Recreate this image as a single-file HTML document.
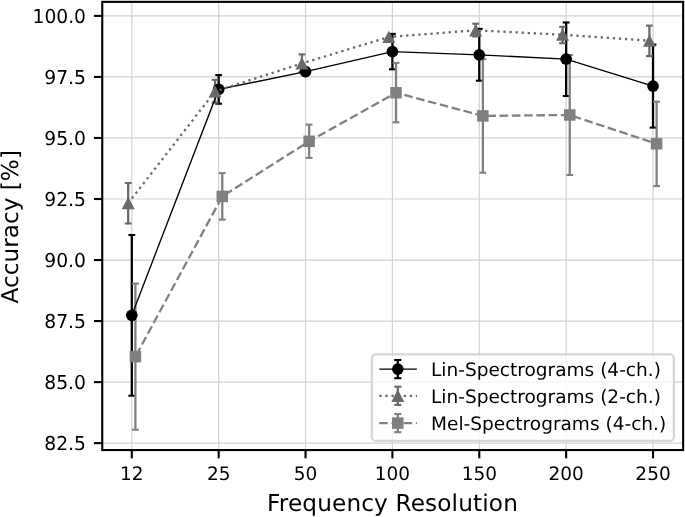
<!DOCTYPE html>
<html lang="en"><head><meta charset="utf-8"><title>Accuracy vs Frequency Resolution</title>
<style>html,body{margin:0;padding:0;background:#fff;width:685px;height:517px;overflow:hidden}svg{will-change:transform}text{text-rendering:geometricPrecision}</style></head>
<body>
<svg width="685" height="517" viewBox="0 0 685 517" style="display:block;position:absolute;left:0;top:0" font-family="'DejaVu Sans', 'Liberation Sans', sans-serif" fill="#000">
<rect x="0" y="0" width="685" height="517" fill="#fff"/>
<g stroke="#d2d2d2" stroke-width="1.2" fill="none">
<line x1="131.80" y1="1.85" x2="131.80" y2="450.05"/>
<line x1="218.67" y1="1.85" x2="218.67" y2="450.05"/>
<line x1="305.54" y1="1.85" x2="305.54" y2="450.05"/>
<line x1="392.41" y1="1.85" x2="392.41" y2="450.05"/>
<line x1="479.28" y1="1.85" x2="479.28" y2="450.05"/>
<line x1="566.15" y1="1.85" x2="566.15" y2="450.05"/>
<line x1="653.02" y1="1.85" x2="653.02" y2="450.05"/>
<line x1="102.25" y1="15.90" x2="683.15" y2="15.90"/>
<line x1="102.25" y1="76.94" x2="683.15" y2="76.94"/>
<line x1="102.25" y1="137.97" x2="683.15" y2="137.97"/>
<line x1="102.25" y1="199.01" x2="683.15" y2="199.01"/>
<line x1="102.25" y1="260.04" x2="683.15" y2="260.04"/>
<line x1="102.25" y1="321.07" x2="683.15" y2="321.07"/>
<line x1="102.25" y1="382.11" x2="683.15" y2="382.11"/>
<line x1="102.25" y1="443.14" x2="683.15" y2="443.14"/>
</g>
<g stroke="#000000" fill="none">
<line x1="131.80" y1="235.00" x2="131.80" y2="395.70" stroke-width="2.3"/>
<line x1="128.40" y1="235.00" x2="135.20" y2="235.00" stroke-width="2.1"/>
<line x1="128.40" y1="395.70" x2="135.20" y2="395.70" stroke-width="2.1"/>
<line x1="218.67" y1="75.10" x2="218.67" y2="103.70" stroke-width="2.3"/>
<line x1="215.27" y1="75.10" x2="222.07" y2="75.10" stroke-width="2.1"/>
<line x1="215.27" y1="103.70" x2="222.07" y2="103.70" stroke-width="2.1"/>
<line x1="305.54" y1="68.50" x2="305.54" y2="74.90" stroke-width="2.3"/>
<line x1="302.14" y1="68.50" x2="308.94" y2="68.50" stroke-width="2.1"/>
<line x1="302.14" y1="74.90" x2="308.94" y2="74.90" stroke-width="2.1"/>
<line x1="392.41" y1="33.90" x2="392.41" y2="69.30" stroke-width="2.3"/>
<line x1="389.01" y1="33.90" x2="395.81" y2="33.90" stroke-width="2.1"/>
<line x1="389.01" y1="69.30" x2="395.81" y2="69.30" stroke-width="2.1"/>
<line x1="479.28" y1="28.90" x2="479.28" y2="80.70" stroke-width="2.3"/>
<line x1="475.88" y1="28.90" x2="482.68" y2="28.90" stroke-width="2.1"/>
<line x1="475.88" y1="80.70" x2="482.68" y2="80.70" stroke-width="2.1"/>
<line x1="566.15" y1="22.50" x2="566.15" y2="96.00" stroke-width="2.3"/>
<line x1="562.75" y1="22.50" x2="569.55" y2="22.50" stroke-width="2.1"/>
<line x1="562.75" y1="96.00" x2="569.55" y2="96.00" stroke-width="2.1"/>
<line x1="653.02" y1="44.60" x2="653.02" y2="127.60" stroke-width="2.3"/>
<line x1="649.62" y1="44.60" x2="656.42" y2="44.60" stroke-width="2.1"/>
<line x1="649.62" y1="127.60" x2="656.42" y2="127.60" stroke-width="2.1"/>
</g>
<g stroke="#696969" fill="none">
<line x1="128.20" y1="183.00" x2="128.20" y2="223.50" stroke-width="2.3"/>
<line x1="124.80" y1="183.00" x2="131.60" y2="183.00" stroke-width="2.1"/>
<line x1="124.80" y1="223.50" x2="131.60" y2="223.50" stroke-width="2.1"/>
<line x1="215.07" y1="79.80" x2="215.07" y2="102.60" stroke-width="2.3"/>
<line x1="211.67" y1="79.80" x2="218.47" y2="79.80" stroke-width="2.1"/>
<line x1="211.67" y1="102.60" x2="218.47" y2="102.60" stroke-width="2.1"/>
<line x1="301.94" y1="54.40" x2="301.94" y2="72.00" stroke-width="2.3"/>
<line x1="298.54" y1="54.40" x2="305.34" y2="54.40" stroke-width="2.1"/>
<line x1="298.54" y1="72.00" x2="305.34" y2="72.00" stroke-width="2.1"/>
<line x1="388.81" y1="38.00" x2="388.81" y2="38.00" stroke-width="2.3"/>
<line x1="385.41" y1="38.00" x2="392.21" y2="38.00" stroke-width="2.1"/>
<line x1="385.41" y1="38.00" x2="392.21" y2="38.00" stroke-width="2.1"/>
<line x1="475.68" y1="23.70" x2="475.68" y2="36.50" stroke-width="2.3"/>
<line x1="472.28" y1="23.70" x2="479.08" y2="23.70" stroke-width="2.1"/>
<line x1="472.28" y1="36.50" x2="479.08" y2="36.50" stroke-width="2.1"/>
<line x1="562.55" y1="26.80" x2="562.55" y2="43.20" stroke-width="2.3"/>
<line x1="559.15" y1="26.80" x2="565.95" y2="26.80" stroke-width="2.1"/>
<line x1="559.15" y1="43.20" x2="565.95" y2="43.20" stroke-width="2.1"/>
<line x1="649.42" y1="25.60" x2="649.42" y2="56.10" stroke-width="2.3"/>
<line x1="646.02" y1="25.60" x2="652.82" y2="25.60" stroke-width="2.1"/>
<line x1="646.02" y1="56.10" x2="652.82" y2="56.10" stroke-width="2.1"/>
</g>
<g stroke="#808080" fill="none">
<line x1="135.40" y1="283.60" x2="135.40" y2="429.70" stroke-width="2.3"/>
<line x1="132.00" y1="283.60" x2="138.80" y2="283.60" stroke-width="2.1"/>
<line x1="132.00" y1="429.70" x2="138.80" y2="429.70" stroke-width="2.1"/>
<line x1="222.27" y1="173.10" x2="222.27" y2="219.60" stroke-width="2.3"/>
<line x1="218.87" y1="173.10" x2="225.67" y2="173.10" stroke-width="2.1"/>
<line x1="218.87" y1="219.60" x2="225.67" y2="219.60" stroke-width="2.1"/>
<line x1="309.14" y1="124.60" x2="309.14" y2="157.90" stroke-width="2.3"/>
<line x1="305.74" y1="124.60" x2="312.54" y2="124.60" stroke-width="2.1"/>
<line x1="305.74" y1="157.90" x2="312.54" y2="157.90" stroke-width="2.1"/>
<line x1="396.01" y1="62.90" x2="396.01" y2="122.30" stroke-width="2.3"/>
<line x1="392.61" y1="62.90" x2="399.41" y2="62.90" stroke-width="2.1"/>
<line x1="392.61" y1="122.30" x2="399.41" y2="122.30" stroke-width="2.1"/>
<line x1="482.88" y1="59.10" x2="482.88" y2="172.70" stroke-width="2.3"/>
<line x1="479.48" y1="59.10" x2="486.28" y2="59.10" stroke-width="2.1"/>
<line x1="479.48" y1="172.70" x2="486.28" y2="172.70" stroke-width="2.1"/>
<line x1="569.75" y1="55.05" x2="569.75" y2="174.95" stroke-width="2.3"/>
<line x1="566.35" y1="55.05" x2="573.15" y2="55.05" stroke-width="2.1"/>
<line x1="566.35" y1="174.95" x2="573.15" y2="174.95" stroke-width="2.1"/>
<line x1="656.62" y1="101.70" x2="656.62" y2="186.10" stroke-width="2.3"/>
<line x1="653.22" y1="101.70" x2="660.02" y2="101.70" stroke-width="2.1"/>
<line x1="653.22" y1="186.10" x2="660.02" y2="186.10" stroke-width="2.1"/>
</g>
<polyline points="131.80,315.30 218.67,89.40 305.54,71.70 392.41,51.60 479.28,54.80 566.15,59.20 653.02,86.10" fill="none" stroke="#000000" stroke-width="1.35"/>
<circle cx="131.80" cy="315.30" r="5.85" fill="#000000"/>
<circle cx="218.67" cy="89.40" r="5.85" fill="#000000"/>
<circle cx="305.54" cy="71.70" r="5.85" fill="#000000"/>
<circle cx="392.41" cy="51.60" r="5.85" fill="#000000"/>
<circle cx="479.28" cy="54.80" r="5.85" fill="#000000"/>
<circle cx="566.15" cy="59.20" r="5.85" fill="#000000"/>
<circle cx="653.02" cy="86.10" r="5.85" fill="#000000"/>
<polyline points="128.20,203.20 215.07,91.40 301.94,63.40 388.81,37.00 475.68,30.30 562.55,34.70 649.42,40.70" fill="none" stroke="#696969" stroke-width="2.3" stroke-dasharray="2.30 3.79"/>
<polygon points="128.20,197.00 121.70,209.30 134.70,209.30" fill="#696969"/>
<polygon points="215.07,85.20 208.57,97.50 221.57,97.50" fill="#696969"/>
<polygon points="301.94,57.20 295.44,69.50 308.44,69.50" fill="#696969"/>
<polygon points="388.81,30.80 382.31,43.10 395.31,43.10" fill="#696969"/>
<polygon points="475.68,24.10 469.18,36.40 482.18,36.40" fill="#696969"/>
<polygon points="562.55,28.50 556.05,40.80 569.05,40.80" fill="#696969"/>
<polygon points="649.42,34.50 642.92,46.80 655.92,46.80" fill="#696969"/>
<polyline points="135.40,356.65 222.27,196.40 309.14,141.30 396.01,92.75 482.88,115.90 569.75,115.00 656.62,143.80" fill="none" stroke="#808080" stroke-width="2.3" stroke-dasharray="8.55 3.695" stroke-dashoffset="-1.5"/>
<rect x="129.65" y="350.90" width="11.5" height="11.5" fill="#808080"/>
<rect x="216.52" y="190.65" width="11.5" height="11.5" fill="#808080"/>
<rect x="303.39" y="135.55" width="11.5" height="11.5" fill="#808080"/>
<rect x="390.26" y="87.00" width="11.5" height="11.5" fill="#808080"/>
<rect x="477.13" y="110.15" width="11.5" height="11.5" fill="#808080"/>
<rect x="564.00" y="109.25" width="11.5" height="11.5" fill="#808080"/>
<rect x="650.87" y="138.05" width="11.5" height="11.5" fill="#808080"/>
<rect x="371.8" y="354.4" width="302.10" height="86.50" rx="4" ry="4" fill="#fff" fill-opacity="0.8" stroke="#cccccc" stroke-opacity="0.8" stroke-width="2.2"/>
<g stroke="#000000" fill="none"><line x1="397.8" y1="360.0" x2="397.8" y2="378.20000000000005" stroke-width="2.3"/><line x1="394.2" y1="360.0" x2="401.40000000000003" y2="360.0" stroke-width="2.1"/><line x1="394.2" y1="378.20000000000005" x2="401.40000000000003" y2="378.20000000000005" stroke-width="2.1"/></g>
<line x1="379.3" y1="369.1" x2="416.9" y2="369.1" stroke="#000000" stroke-width="1.35"/>
<circle cx="397.8" cy="369.1" r="5.8" fill="#000000"/>
<g stroke="#696969" fill="none"><line x1="397.8" y1="386.7" x2="397.8" y2="404.90000000000003" stroke-width="2.3"/><line x1="394.2" y1="386.7" x2="401.40000000000003" y2="386.7" stroke-width="2.1"/><line x1="394.2" y1="404.90000000000003" x2="401.40000000000003" y2="404.90000000000003" stroke-width="2.1"/></g>
<line x1="379.3" y1="395.8" x2="416.9" y2="395.8" stroke="#696969" stroke-width="2.3" stroke-dasharray="2.30 3.79"/>
<polygon points="397.80,389.60 391.30,401.90 404.30,401.90" fill="#696969"/>
<g stroke="#808080" fill="none"><line x1="397.8" y1="414.0" x2="397.8" y2="432.20000000000005" stroke-width="2.3"/><line x1="394.2" y1="414.0" x2="401.40000000000003" y2="414.0" stroke-width="2.1"/><line x1="394.2" y1="432.20000000000005" x2="401.40000000000003" y2="432.20000000000005" stroke-width="2.1"/></g>
<line x1="379.3" y1="423.1" x2="416.9" y2="423.1" stroke="#808080" stroke-width="2.3" stroke-dasharray="8.51 3.68"/>
<rect x="392.05" y="417.35" width="11.5" height="11.5" fill="#808080"/>
<text x="431.00" y="375.90" font-size="18.5" textLength="229.90" lengthAdjust="spacingAndGlyphs">Lin-Spectrograms (4-ch.)</text>
<text x="431.00" y="402.80" font-size="18.5" textLength="229.90" lengthAdjust="spacingAndGlyphs">Lin-Spectrograms (2-ch.)</text>
<text x="431.00" y="429.70" font-size="18.5" textLength="235.20" lengthAdjust="spacingAndGlyphs">Mel-Spectrograms (4-ch.)</text>
<rect x="102.25" y="1.85" width="580.90" height="448.20" fill="none" stroke="#000" stroke-width="2.1"/>
<g stroke="#000" stroke-width="2.1">
<line x1="131.80" y1="450.05" x2="131.80" y2="458.35"/>
<line x1="218.67" y1="450.05" x2="218.67" y2="458.35"/>
<line x1="305.54" y1="450.05" x2="305.54" y2="458.35"/>
<line x1="392.41" y1="450.05" x2="392.41" y2="458.35"/>
<line x1="479.28" y1="450.05" x2="479.28" y2="458.35"/>
<line x1="566.15" y1="450.05" x2="566.15" y2="458.35"/>
<line x1="653.02" y1="450.05" x2="653.02" y2="458.35"/>
<line x1="102.25" y1="15.90" x2="93.95" y2="15.90"/>
<line x1="102.25" y1="76.94" x2="93.95" y2="76.94"/>
<line x1="102.25" y1="137.97" x2="93.95" y2="137.97"/>
<line x1="102.25" y1="199.01" x2="93.95" y2="199.01"/>
<line x1="102.25" y1="260.04" x2="93.95" y2="260.04"/>
<line x1="102.25" y1="321.07" x2="93.95" y2="321.07"/>
<line x1="102.25" y1="382.11" x2="93.95" y2="382.11"/>
<line x1="102.25" y1="443.14" x2="93.95" y2="443.14"/>
</g>
<text x="131.80" y="480.30" font-size="18.6" text-anchor="middle" textLength="23.54" lengthAdjust="spacingAndGlyphs">12</text>
<text x="218.67" y="480.30" font-size="18.6" text-anchor="middle" textLength="23.54" lengthAdjust="spacingAndGlyphs">25</text>
<text x="305.54" y="480.30" font-size="18.6" text-anchor="middle" textLength="23.54" lengthAdjust="spacingAndGlyphs">50</text>
<text x="392.41" y="480.30" font-size="18.6" text-anchor="middle" textLength="35.31" lengthAdjust="spacingAndGlyphs">100</text>
<text x="479.28" y="480.30" font-size="18.6" text-anchor="middle" textLength="35.31" lengthAdjust="spacingAndGlyphs">150</text>
<text x="566.15" y="480.30" font-size="18.6" text-anchor="middle" textLength="35.31" lengthAdjust="spacingAndGlyphs">200</text>
<text x="653.02" y="480.30" font-size="18.6" text-anchor="middle" textLength="35.31" lengthAdjust="spacingAndGlyphs">250</text>
<text x="86.00" y="22.75" font-size="19.1" text-anchor="end" textLength="53.50" lengthAdjust="spacingAndGlyphs">100.0</text>
<text x="86.00" y="83.78" font-size="19.1" text-anchor="end" textLength="41.73" lengthAdjust="spacingAndGlyphs">97.5</text>
<text x="86.00" y="144.82" font-size="19.1" text-anchor="end" textLength="41.73" lengthAdjust="spacingAndGlyphs">95.0</text>
<text x="86.00" y="205.86" font-size="19.1" text-anchor="end" textLength="41.73" lengthAdjust="spacingAndGlyphs">92.5</text>
<text x="86.00" y="266.89" font-size="19.1" text-anchor="end" textLength="41.73" lengthAdjust="spacingAndGlyphs">90.0</text>
<text x="86.00" y="327.93" font-size="19.1" text-anchor="end" textLength="41.73" lengthAdjust="spacingAndGlyphs">87.5</text>
<text x="86.00" y="388.96" font-size="19.1" text-anchor="end" textLength="41.73" lengthAdjust="spacingAndGlyphs">85.0</text>
<text x="86.00" y="450.00" font-size="19.1" text-anchor="end" textLength="41.73" lengthAdjust="spacingAndGlyphs">82.5</text>
<text x="392.40" y="511.00" font-size="23.2" text-anchor="middle" textLength="250.86" lengthAdjust="spacing">Frequency Resolution</text>
<text transform="translate(18.45,226.75) rotate(-90)" font-size="23.2" text-anchor="middle" textLength="153.45" lengthAdjust="spacing">Accuracy [%]</text>
</svg>
</body></html>
